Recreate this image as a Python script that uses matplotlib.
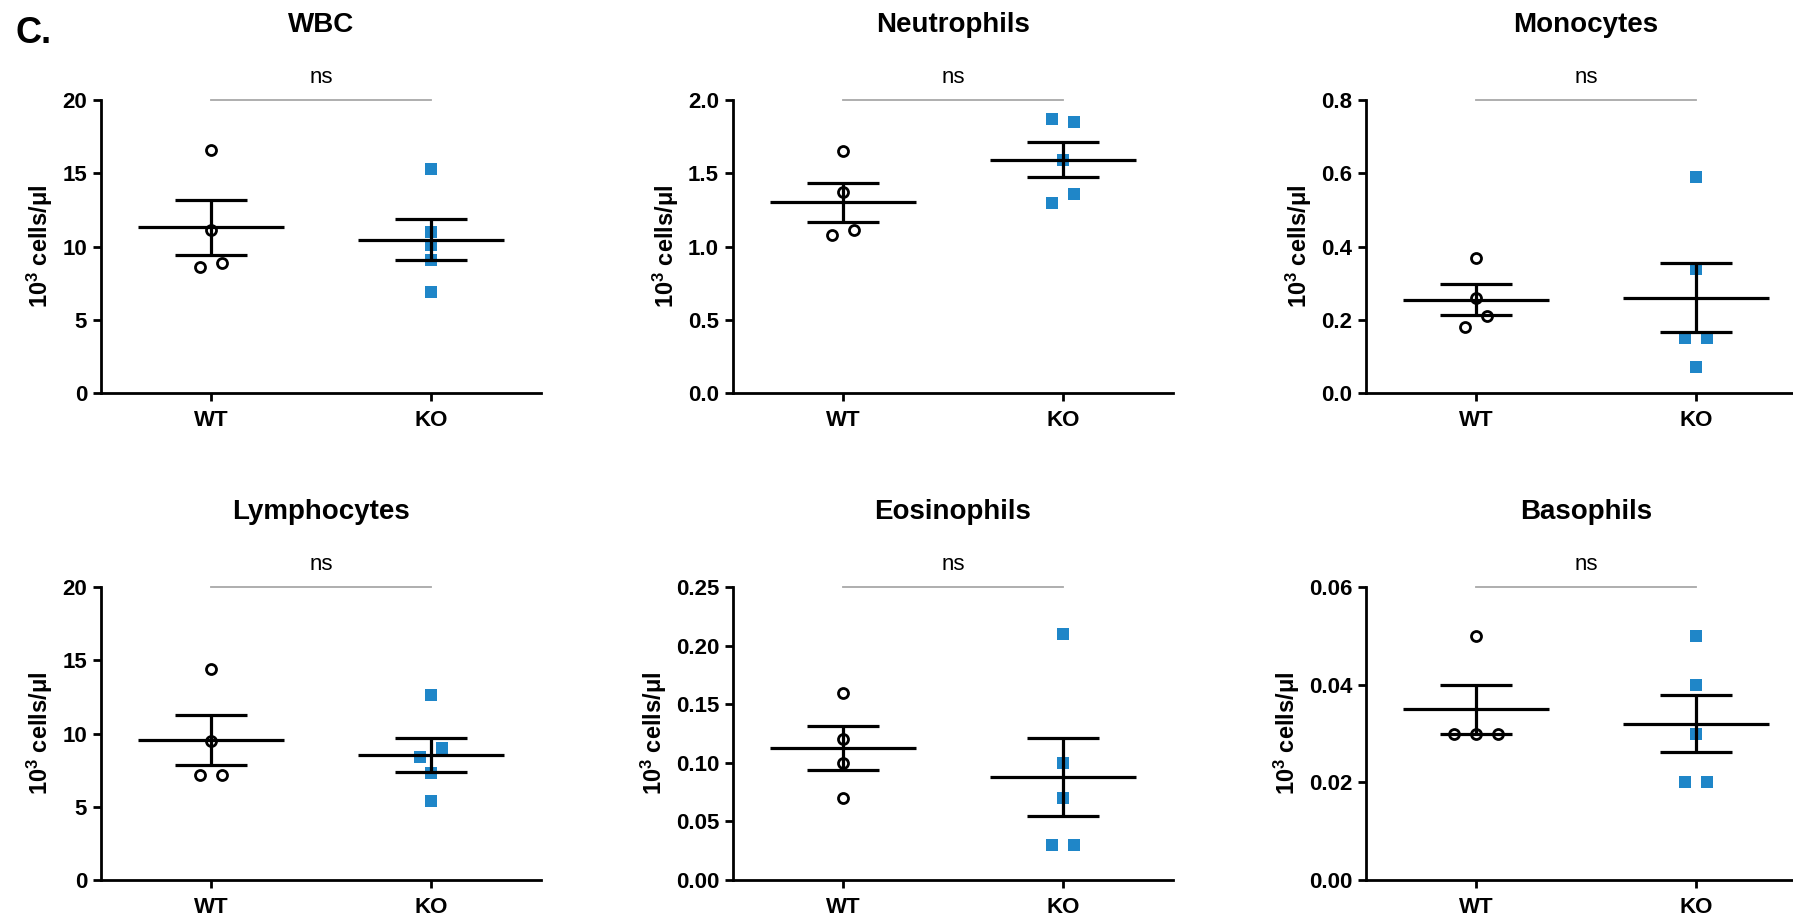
import numpy as np
import matplotlib
matplotlib.use("Agg")
from matplotlib import pyplot as plt

plt.rcParams['font.family'] = ['Liberation Sans', 'DejaVu Sans']
plt.rcParams['font.weight'] = 'bold'
plt.rcParams['mathtext.fontset'] = 'custom'
plt.rcParams['mathtext.rm'] = 'Liberation Sans'
plt.rcParams['mathtext.bf'] = 'Liberation Sans:bold'

# data (10^3 cells/ul)
panels = ['WBC', 'Neutrophils', 'Monocytes', 'Lymphocytes', 'Eosinophils', 'Basophils']
groups = ['WT', 'KO']

wbc_wt = [16.6, 11.1, 8.6, 8.9]
wbc_ko = [15.3, 11.0, 10.1, 9.1, 6.9]
neut_wt = [1.65, 1.37, 1.08, 1.11]
neut_ko = [1.87, 1.85, 1.59, 1.30, 1.36]
mono_wt = [0.37, 0.26, 0.18, 0.21]
mono_ko = [0.59, 0.34, 0.15, 0.15, 0.07]
lymph_wt = [14.4, 9.5, 7.2, 7.2]
lymph_ko = [12.6, 8.4, 9.0, 7.3, 5.4]
eos_wt = [0.16, 0.12, 0.10, 0.07]
eos_ko = [0.21, 0.10, 0.07, 0.03, 0.03]
baso_wt = [0.05, 0.03, 0.03, 0.03]
baso_ko = [0.05, 0.04, 0.03, 0.02, 0.02]

wbc_ticks = [0, 5, 10, 15, 20]
neut_ticks = [0.0, 0.5, 1.0, 1.5, 2.0]
mono_ticks = [0.0, 0.2, 0.4, 0.6, 0.8]
lymph_ticks = [0, 5, 10, 15, 20]
eos_ticks = [0.00, 0.05, 0.10, 0.15, 0.20, 0.25]
baso_ticks = [0.00, 0.02, 0.04, 0.06]
tick_fmt = ['{:.0f}', '{:.1f}', '{:.1f}', '{:.0f}', '{:.2f}', '{:.2f}']

signif = ['ns'] * 6

all_wt = [wbc_wt, neut_wt, mono_wt, lymph_wt, eos_wt, baso_wt]
all_ko = [wbc_ko, neut_ko, mono_ko, lymph_ko, eos_ko, baso_ko]
all_ticks = [wbc_ticks, neut_ticks, mono_ticks, lymph_ticks, eos_ticks, baso_ticks]

BLUE = '#1f86c8'


def spread(values, yrange, thr=0.042, step=0.1):
    """Simple scatter jitter: points that overlap vertically are put side by side."""
    groups_ = []
    for i, v in enumerate(values):
        for g in groups_:
            if any(abs(v - values[j]) < thr * yrange for j in g):
                g.append(i)
                break
        else:
            groups_.append([i])
    offs = np.zeros(len(values))
    for g in groups_:
        n = len(g)
        for k, j in enumerate(g):
            offs[j] = (k - (n - 1) / 2) * step
    return offs


def mean_sem(values):
    v = np.asarray(values, dtype=float)
    return v.mean(), v.std(ddof=1) / np.sqrt(len(v))


fig = plt.figure(figsize=(17.93, 9.17), dpi=100)

lefts = [0.0563, 0.4088, 0.7619]
bottoms = [0.5714, 0.0403]
w, h = 0.2454, 0.3195

for i, name in enumerate(panels):
    ax = fig.add_axes([lefts[i % 3], bottoms[i // 3], w, h])
    ticks = all_ticks[i]
    ymax = ticks[-1]

    for gx, vals in enumerate([all_wt[i], all_ko[i]]):
        xs = gx + spread(vals, ymax)
        if gx == 0:
            ax.plot(xs, vals, 'o', mfc='white', mec='black', ms=7.2, mew=2.0,
                    zorder=2, clip_on=False)
        else:
            ax.plot(xs, vals, 's', color=BLUE, ms=8.8, mew=0, zorder=2, clip_on=False)
        m, s = mean_sem(vals)
        ax.hlines(m, gx - 0.33, gx + 0.33, color='black', lw=2.3, zorder=3)
        ax.hlines([m - s, m + s], gx - 0.165, gx + 0.165, color='black', lw=2.3, zorder=3)
        ax.vlines(gx, m - s, m + s, color='black', lw=2.3, zorder=3)

    # significance bar
    ax.plot([0, 1], [ymax, ymax], color='#a8a8a8', lw=1.3, clip_on=False, zorder=1)
    ax.annotate(signif[i], xy=(0.5, ymax), xytext=(0, 16), textcoords='offset points',
                ha='center', va='center', fontsize=16, fontweight='normal',
                annotation_clip=False)
    ax.annotate(name, xy=(0.5, ymax), xytext=(0, 54), textcoords='offset points',
                ha='center', va='center', fontsize=20, fontweight='bold',
                annotation_clip=False)

    ax.set_xlim(-0.5, 1.5)
    ax.set_ylim(0, ymax)
    ax.set_xticks([0, 1])
    ax.set_xticklabels(groups)
    ax.set_yticks(ticks)
    ax.set_yticklabels([tick_fmt[i].format(t) for t in ticks])
    ax.set_ylabel(r'$\mathbf{10^3}$ cells/μl', fontsize=17, fontweight='bold', labelpad=5)

    for side in ['top', 'right']:
        ax.spines[side].set_visible(False)
    for side in ['left', 'bottom']:
        ax.spines[side].set_linewidth(2.0)
    ax.tick_params(axis='both', width=2.0, length=6, labelsize=16, pad=4)
    ax.tick_params(axis='x', pad=6)

fig.text(0.0084, 0.953, 'C.', fontsize=26, fontweight='bold', ha='left', va='baseline')

fig.savefig('out.png', dpi=100)
